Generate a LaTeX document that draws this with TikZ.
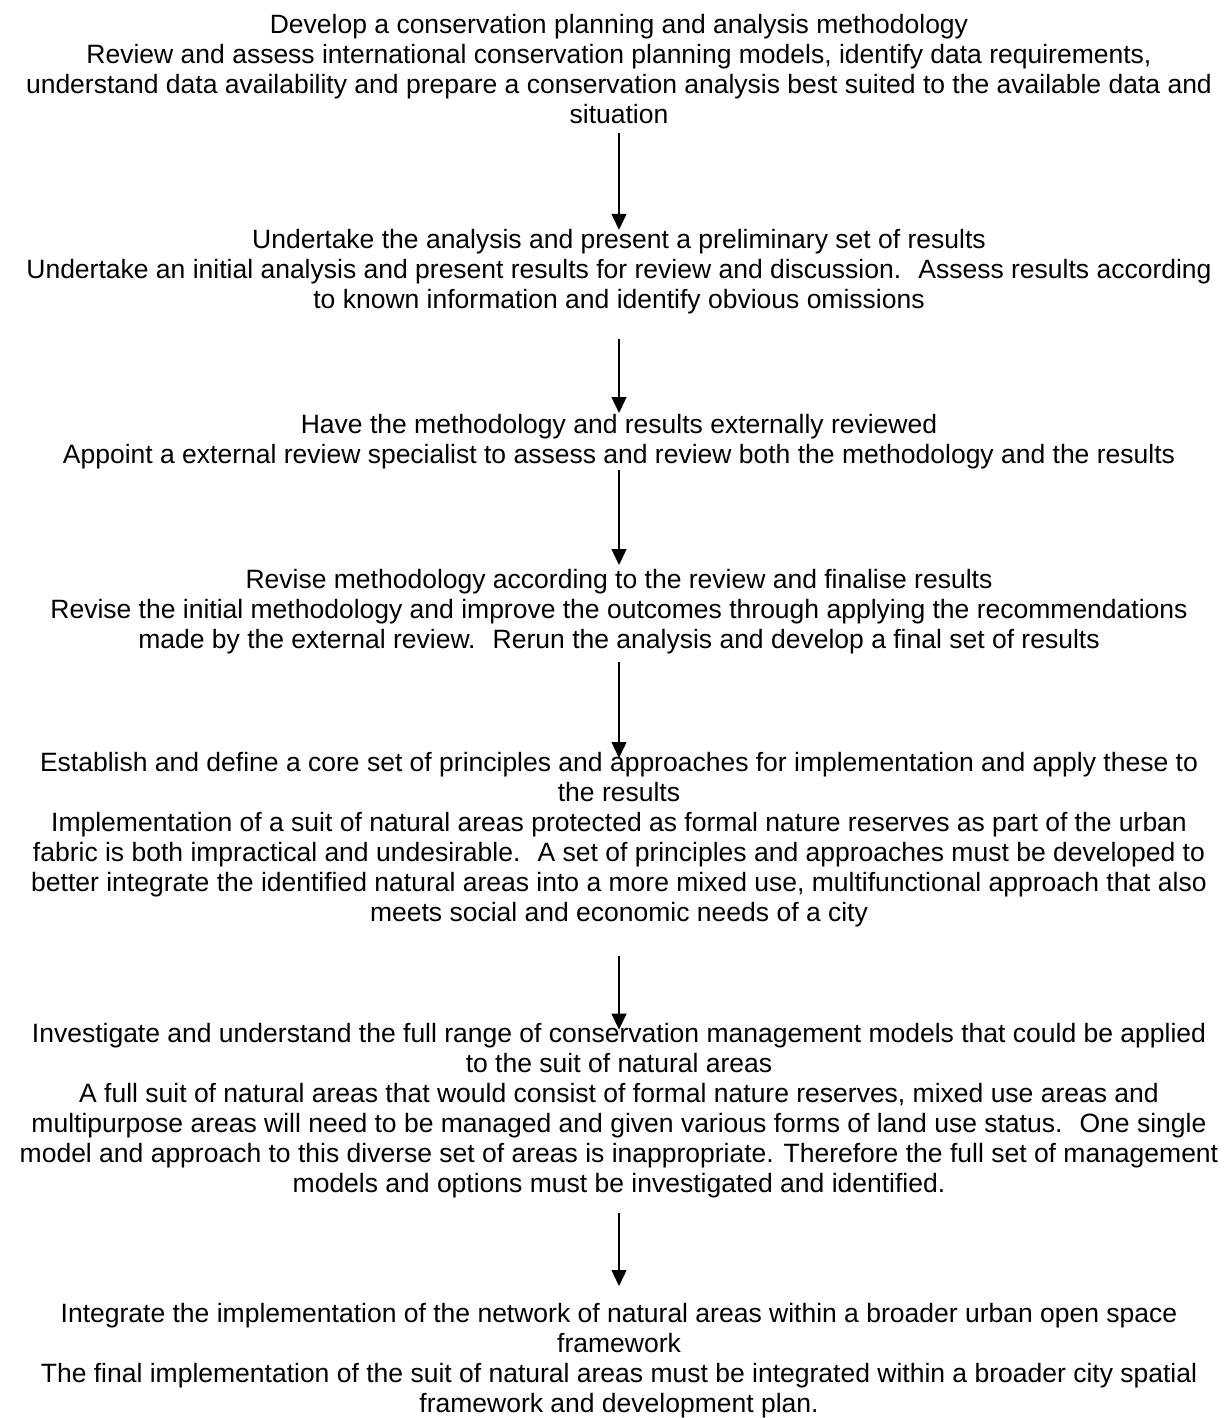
\documentclass[tikz,border=0pt]{standalone}
\usepackage{fontspec}
\setmainfont{Liberation Sans}
\usetikzlibrary{arrows.meta}

\begin{document}
\begin{tikzpicture}[
    x=0.5pt, y=-0.5pt,
    stage/.style={
        anchor=base,
        inner sep=0pt,
        align=center,
        font=\fontsize{13.25}{15}\selectfont
    },
    flow/.style={
        -{Triangle[length=8pt,width=7.5pt]},
        line width=0.65pt
    }
]
\useasboundingbox (0,0) rectangle (1229,1418);

% Stages (placed by the baseline of their last line)
\node[stage] (method) at (619,124) {Develop a conservation planning and analysis methodology\\
Review and assess international conservation planning models, identify data requirements,\\
understand data availability and prepare a conservation analysis best suited to the available data and\\
situation};

\node[stage] (prelim) at (619,308) {Undertake the analysis and present a preliminary set of results\\
Undertake an initial analysis and present results for review and discussion. \ Assess results according\\
to known information and identify obvious omissions};

\node[stage] (review) at (619,463) {Have the methodology and results externally reviewed\\
Appoint a external review specialist to assess and review both the methodology and the results};

\node[stage] (revise) at (619,648) {Revise methodology according to the review and finalise results\\
Revise the initial methodology and improve the outcomes through applying the recommendations\\
made by the external review. \ Rerun the analysis and develop a final set of results};

\node[stage] (principles) at (619,921) {Establish and define a core set of principles and approaches for implementation and apply these to\\
the results\\
Implementation of a suit of natural areas protected as formal nature reserves as part of the urban\\
fabric is both impractical and undesirable. \ A set of principles and approaches must be developed to\\
better integrate the identified natural areas into a more mixed use, multifunctional approach that also\\
meets social and economic needs of a city};

\node[stage] (models) at (619,1192) {Investigate and understand the full range of conservation management models that could be applied\\
to the suit of natural areas\\
A full suit of natural areas that would consist of formal nature reserves, mixed use areas and\\
multipurpose areas will need to be managed and given various forms of land use status. \ One single\\
model and approach to this diverse set of areas is inappropriate. Therefore the full set of management\\
models and options must be investigated and identified.};

\node[stage] (integrate) at (619,1412) {Integrate the implementation of the network of natural areas within a broader urban open space\\
framework\\
The final implementation of the suit of natural areas must be integrated within a broader city spatial\\
framework and development plan.};

% Arrows
\draw[flow, shorten <=4pt, shorten >=-0.7pt] (method) -- (prelim);
\draw[flow, shorten <=12.75pt, shorten >=0.2pt] (prelim) -- (review);
\draw[flow, shorten <=0.75pt, shorten >=1.7pt] (review) -- (revise);
\draw[flow, shorten <=4.25pt, shorten >=-3.3pt] (revise) -- (principles);
\draw[flow, shorten <=14.75pt, shorten >=-3.6pt] (principles) -- (models);
\draw[flow, shorten <=7.75pt, shorten >=8.2pt] (models) -- (integrate);

\end{tikzpicture}
\end{document}
